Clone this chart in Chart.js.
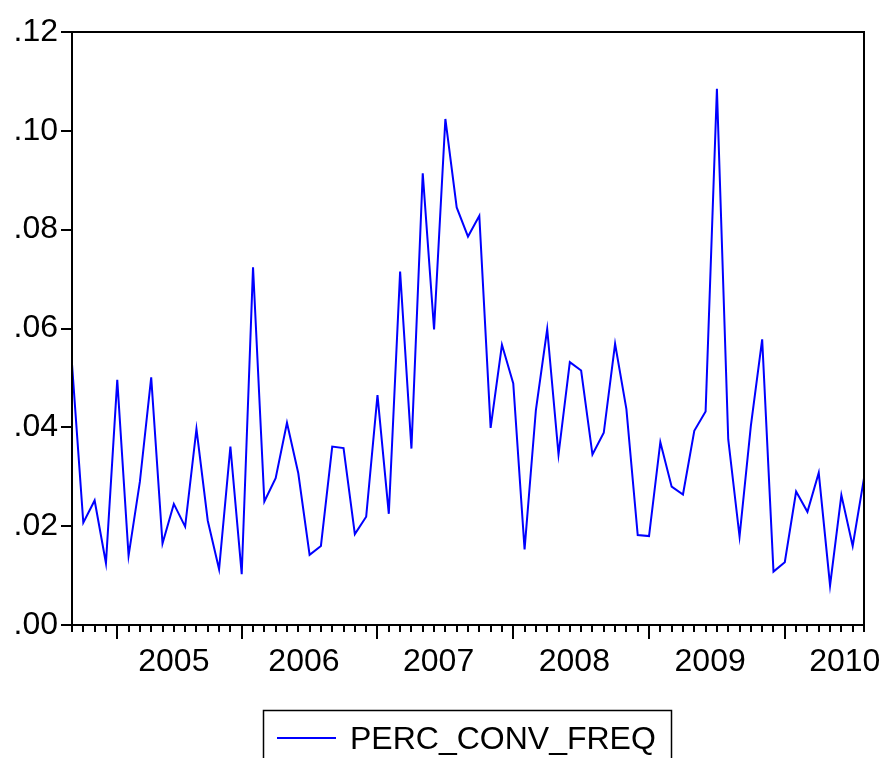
<!DOCTYPE html>
<html>
<head>
<meta charset="utf-8">
<script src="https://cdn.jsdelivr.net/npm/chart.js@4.4.1/dist/chart.umd.min.js"></script>
<style>
  html, body { margin: 0; padding: 0; background: #fff; }
  #wrap { width: 883px; height: 758px; position: relative; }
</style>
</head>
<body>
<div id="wrap"><canvas id="chart"></canvas></div>
<script>
const seriesName = "PERC_CONV_FREQ";
const values = [
  0.0528, 0.0207, 0.0252, 0.0125, 0.0496, 0.0140, 0.0290, 0.0501, 0.0165, 0.0245,
  0.0199, 0.0397, 0.0211, 0.0113, 0.0361, 0.0103, 0.0724, 0.0250, 0.0297, 0.0409,
  0.0307, 0.0142, 0.0160, 0.0361, 0.0358, 0.0184, 0.0219, 0.0465, 0.0225, 0.0715,
  0.0357, 0.0914, 0.0598, 0.1024, 0.0845, 0.0786, 0.0828, 0.0399, 0.0567, 0.0489,
  0.0153, 0.0435, 0.0599, 0.0345, 0.0532, 0.0515, 0.0345, 0.0389, 0.0569, 0.0437,
  0.0182, 0.0180, 0.0370, 0.0280, 0.0264, 0.0393, 0.0432, 0.1085, 0.0376, 0.0179,
  0.0403, 0.0578, 0.0108, 0.0127, 0.0270, 0.0229, 0.0308, 0.0080, 0.0263, 0.0160,
  0.0297
];
// year starts (observation index) and where each year label sits
const majorTicks = [4, 15, 27, 39, 51, 63];
const yearLabels = ["2005", "2006", "2007", "2008", "2009", "2010"];
const yearLabelPos = [9, 20.5, 32.4, 44.4, 56.4, 68.3];
const yTicks = [0, 0.02, 0.04, 0.06, 0.08, 0.10, 0.12];

const FONT = '32px "Liberation Sans", Arial, sans-serif';

const decor = {
  id: 'decor',
  afterDraw(chart) {
    const { ctx, chartArea: a, scales: { x } } = chart;
    ctx.save();
    ctx.strokeStyle = '#000';
    ctx.lineWidth = 2;
    ctx.strokeRect(a.left, a.top, a.right - a.left, a.bottom - a.top);

    // monthly ticks, longer at year starts
    ctx.beginPath();
    for (let i = 0; i < values.length; i++) {
      const px = Math.round(x.getPixelForValue(i));
      const len = majorTicks.includes(i) ? 14 : 7;
      ctx.moveTo(px, a.bottom);
      ctx.lineTo(px, a.bottom + len);
    }
    ctx.stroke();

    ctx.fillStyle = '#000';
    ctx.font = FONT;
    ctx.textAlign = 'center';
    ctx.textBaseline = 'alphabetic';
    yearLabels.forEach((lab, k) => {
      ctx.fillText(lab, x.getPixelForValue(yearLabelPos[k]), 671);
    });

    // legend box
    const ds = chart.data.datasets[0];
    ctx.lineWidth = 1.5;
    ctx.strokeRect(263.5, 710.5, 408, 60);
    ctx.strokeStyle = ds.borderColor;
    ctx.lineWidth = 2;
    ctx.beginPath();
    ctx.moveTo(277, 738);
    ctx.lineTo(336, 738);
    ctx.stroke();
    ctx.textAlign = 'left';
    ctx.fillText(ds.label, 350, 749);
    ctx.restore();
  }
};

new Chart(document.getElementById('chart'), {
  type: 'line',
  data: {
    datasets: [{
      label: seriesName,
      data: values.map((v, i) => ({ x: i, y: v })),
      borderColor: '#0000ff',
      borderWidth: 2,
      pointRadius: 0,
      tension: 0,
      fill: false
    }]
  },
  options: {
    responsive: true,
    maintainAspectRatio: false,
    animation: false,
    layout: { padding: { top: 32, right: 19, left: 0, bottom: 0 } },
    plugins: { legend: { display: false }, tooltip: { enabled: false } },
    scales: {
      x: {
        type: 'linear',
        min: 0,
        max: values.length - 1,
        grid: { display: false },
        border: { display: false },
        ticks: { display: false },
        afterFit(s) { s.height = 133; }
      },
      y: {
        min: 0,
        max: 0.12,
        afterBuildTicks(s) { s.ticks = yTicks.map(v => ({ value: v })); },
        grid: { drawOnChartArea: false, color: '#000', lineWidth: 2, tickLength: 11 },
        border: { display: false },
        ticks: {
          color: '#000',
          padding: 3,
          font: { family: '"Liberation Sans", Arial, sans-serif', size: 32 },
          callback: v => '.' + v.toFixed(2).split('.')[1]
        },
        afterFit(s) { s.width = 72; }
      }
    }
  },
  plugins: [decor]
});
</script>
</body>
</html>
